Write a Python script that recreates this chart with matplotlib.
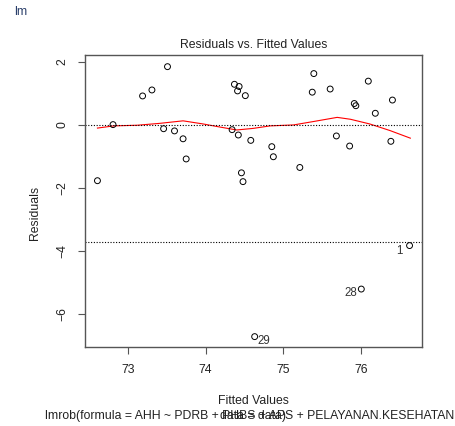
import numpy as np
import matplotlib
matplotlib.use("Agg")
import matplotlib.pyplot as plt

plt.rcParams['font.family'] = ['Liberation Sans', 'DejaVu Sans']

# fitted values and residuals
fitted = [72.61, 72.81, 73.19, 73.31, 73.51, 73.46, 73.60, 73.71, 73.75,
          74.37, 74.43, 74.41, 74.51, 74.34, 74.42, 74.58, 74.46, 74.48,
          74.85, 74.87, 75.21, 75.39, 75.37, 75.60, 75.68, 75.85, 75.91,
          75.93, 76.09, 76.18, 76.40, 76.38,
          76.62, 76.00, 74.63]
resid = [-1.77, 0.01, 0.92, 1.11, 1.85, -0.12, -0.19, -0.44, -1.08,
         1.29, 1.22, 1.08, 0.93, -0.15, -0.32, -0.49, -1.52, -1.80,
         -0.69, -1.01, -1.35, 1.63, 1.04, 1.14, -0.35, -0.67, 0.68,
         0.61, 1.39, 0.37, 0.79, -0.52,
         -3.83, -5.21, -6.72]
outlier_ids = ["1", "28", "29"]

# red smoother
smooth_x = [72.61, 72.82, 73.12, 73.41, 73.71, 73.97, 74.19, 74.40, 74.61,
            74.83, 75.13, 75.39, 75.69, 75.86, 76.11, 76.37, 76.63]
smooth_y = [-0.10, -0.03, -0.01, 0.05, 0.13, 0.03, -0.07, -0.16, -0.11,
            -0.03, 0.00, 0.11, 0.24, 0.18, 0.03, -0.18, -0.42]

cutoff = -3.72
fs = 8.8

fig = plt.figure(figsize=(4.55, 4.26), dpi=100)
ax = fig.add_axes([0.1868, 0.1854, 0.7407, 0.6855])

ax.scatter(fitted, resid, s=18, facecolors='none', edgecolors='black', linewidths=0.7, zorder=3)
ax.plot(smooth_x, smooth_y, color='red', linewidth=0.8)
ax.axhline(0, color='black', linestyle=(0, (1, 1.5)), linewidth=0.8)
ax.axhline(cutoff, color='black', linestyle=(0, (1, 1.5)), linewidth=0.8)

# outlier labels
ax.annotate(outlier_ids[0], (fitted[32], resid[32]), xytext=(-5, -4), textcoords='offset points',
            ha='right', va='center', fontsize=fs - 0.5, color='#333333')
ax.annotate(outlier_ids[1], (fitted[33], resid[33]), xytext=(-3, -3), textcoords='offset points',
            ha='right', va='center', fontsize=fs - 0.5, color='#333333')
ax.annotate(outlier_ids[2], (fitted[34], resid[34]), xytext=(2, -3), textcoords='offset points',
            ha='left', va='center', fontsize=fs - 0.5, color='#333333')

ax.set_xlim(72.45, 76.78)
ax.set_ylim(-7.05, 2.22)
ax.set_xticks([73, 74, 75, 76])
ax.set_yticks([2, 0, -2, -4, -6])
ax.tick_params(direction='out', length=5, width=0.8, color='#555555', labelsize=fs,
               labelcolor='#222222', pad=7)
for lab in ax.get_yticklabels():
    lab.set_rotation(90)
    lab.set_va('center')
for sp in ax.spines.values():
    sp.set_color('#555555')
    sp.set_linewidth(1.0)

ax.set_title("Residuals vs. Fitted Values", fontsize=fs, color='#222222', pad=5)
fig.text(0.0769, 0.5, "Residuals", rotation=90, ha='center', va='center', fontsize=fs, color='#222222')
fig.text(0.557, 0.0587, "Fitted Values", ha='center', va='center', fontsize=fs, color='#222222')
fig.text(0.557, 0.0235, "lmrob(formula = AHH ~ PDRB + PHBS + APS + PELAYANAN.KESEHATAN, ",
         ha='center', va='center', fontsize=fs, color='#222222')
fig.text(0.557, 0.0235, "data = data)", ha='center', va='center', fontsize=fs, color='#222222')
fig.text(0.03, 0.972, "lm", ha='left', va='center', fontsize=fs, color='#2a3f6a')

fig.savefig("out.png", dpi=100)
